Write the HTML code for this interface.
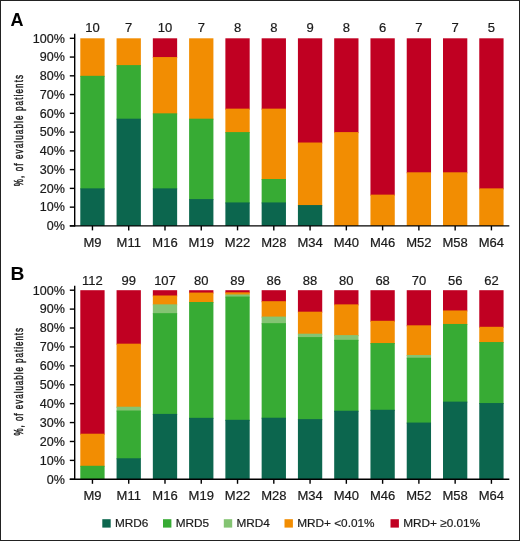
<!DOCTYPE html>
<html><head><meta charset="utf-8"><style>
html,body{margin:0;padding:0;background:#fff;}
svg{display:block;font-family:"Liberation Sans",sans-serif;will-change:transform;}
</style></head><body>
<svg width="520" height="541" viewBox="0 0 520 541">
<rect x="0" y="0" width="520" height="541" fill="#fff"/>
<rect x="80.30" y="38.30" width="24.30" height="38.52" fill="#f28d02"/>
<rect x="80.30" y="75.82" width="24.30" height="113.56" fill="#37ab34"/>
<rect x="80.30" y="188.38" width="24.30" height="37.52" fill="#0c664e"/>
<rect x="116.57" y="38.30" width="24.30" height="27.80" fill="#f28d02"/>
<rect x="116.57" y="65.10" width="24.30" height="54.60" fill="#37ab34"/>
<rect x="116.57" y="118.70" width="24.30" height="107.20" fill="#0c664e"/>
<rect x="152.84" y="38.30" width="24.30" height="19.76" fill="#c00022"/>
<rect x="152.84" y="57.06" width="24.30" height="57.28" fill="#f28d02"/>
<rect x="152.84" y="113.34" width="24.30" height="76.04" fill="#37ab34"/>
<rect x="152.84" y="188.38" width="24.30" height="37.52" fill="#0c664e"/>
<rect x="189.11" y="38.30" width="24.30" height="81.40" fill="#f28d02"/>
<rect x="189.11" y="118.70" width="24.30" height="81.40" fill="#37ab34"/>
<rect x="189.11" y="199.10" width="24.30" height="26.80" fill="#0c664e"/>
<rect x="225.38" y="38.30" width="24.30" height="71.35" fill="#c00022"/>
<rect x="225.38" y="108.65" width="24.30" height="24.45" fill="#f28d02"/>
<rect x="225.38" y="132.10" width="24.30" height="71.35" fill="#37ab34"/>
<rect x="225.38" y="202.45" width="24.30" height="23.45" fill="#0c664e"/>
<rect x="261.65" y="38.30" width="24.30" height="71.35" fill="#c00022"/>
<rect x="261.65" y="108.65" width="24.30" height="71.35" fill="#f28d02"/>
<rect x="261.65" y="179.00" width="24.30" height="24.45" fill="#37ab34"/>
<rect x="261.65" y="202.45" width="24.30" height="23.45" fill="#0c664e"/>
<rect x="297.92" y="38.30" width="24.30" height="105.22" fill="#c00022"/>
<rect x="297.92" y="142.52" width="24.30" height="63.53" fill="#f28d02"/>
<rect x="297.92" y="205.06" width="24.30" height="20.84" fill="#0c664e"/>
<rect x="334.19" y="38.30" width="24.30" height="94.80" fill="#c00022"/>
<rect x="334.19" y="132.10" width="24.30" height="93.80" fill="#f28d02"/>
<rect x="370.46" y="38.30" width="24.30" height="157.33" fill="#c00022"/>
<rect x="370.46" y="194.63" width="24.30" height="31.27" fill="#f28d02"/>
<rect x="406.73" y="38.30" width="24.30" height="135.00" fill="#c00022"/>
<rect x="406.73" y="172.30" width="24.30" height="53.60" fill="#f28d02"/>
<rect x="443.00" y="38.30" width="24.30" height="135.00" fill="#c00022"/>
<rect x="443.00" y="172.30" width="24.30" height="53.60" fill="#f28d02"/>
<rect x="479.27" y="38.30" width="24.30" height="151.08" fill="#c00022"/>
<rect x="479.27" y="188.38" width="24.30" height="37.52" fill="#f28d02"/>
<line x1="74.70" y1="33.80" x2="74.70" y2="226.60" stroke="#000" stroke-width="1.4"/>
<line x1="69.80" y1="225.90" x2="509.30" y2="225.90" stroke="#000" stroke-width="1.4"/>
<line x1="69.80" y1="225.90" x2="74.70" y2="225.90" stroke="#000" stroke-width="1.4"/>
<text transform="translate(64.90,230.20) scale(1.045,1)" text-anchor="end" font-size="12" font-weight="normal" fill="#1a1a1a" stroke="#1a1a1a" stroke-width="0.2">0%</text>
<line x1="69.80" y1="207.14" x2="74.70" y2="207.14" stroke="#000" stroke-width="1.4"/>
<text transform="translate(64.90,211.44) scale(1.045,1)" text-anchor="end" font-size="12" font-weight="normal" fill="#1a1a1a" stroke="#1a1a1a" stroke-width="0.2">10%</text>
<line x1="69.80" y1="188.38" x2="74.70" y2="188.38" stroke="#000" stroke-width="1.4"/>
<text transform="translate(64.90,192.68) scale(1.045,1)" text-anchor="end" font-size="12" font-weight="normal" fill="#1a1a1a" stroke="#1a1a1a" stroke-width="0.2">20%</text>
<line x1="69.80" y1="169.62" x2="74.70" y2="169.62" stroke="#000" stroke-width="1.4"/>
<text transform="translate(64.90,173.92) scale(1.045,1)" text-anchor="end" font-size="12" font-weight="normal" fill="#1a1a1a" stroke="#1a1a1a" stroke-width="0.2">30%</text>
<line x1="69.80" y1="150.86" x2="74.70" y2="150.86" stroke="#000" stroke-width="1.4"/>
<text transform="translate(64.90,155.16) scale(1.045,1)" text-anchor="end" font-size="12" font-weight="normal" fill="#1a1a1a" stroke="#1a1a1a" stroke-width="0.2">40%</text>
<line x1="69.80" y1="132.10" x2="74.70" y2="132.10" stroke="#000" stroke-width="1.4"/>
<text transform="translate(64.90,136.40) scale(1.045,1)" text-anchor="end" font-size="12" font-weight="normal" fill="#1a1a1a" stroke="#1a1a1a" stroke-width="0.2">50%</text>
<line x1="69.80" y1="113.34" x2="74.70" y2="113.34" stroke="#000" stroke-width="1.4"/>
<text transform="translate(64.90,117.64) scale(1.045,1)" text-anchor="end" font-size="12" font-weight="normal" fill="#1a1a1a" stroke="#1a1a1a" stroke-width="0.2">60%</text>
<line x1="69.80" y1="94.58" x2="74.70" y2="94.58" stroke="#000" stroke-width="1.4"/>
<text transform="translate(64.90,98.88) scale(1.045,1)" text-anchor="end" font-size="12" font-weight="normal" fill="#1a1a1a" stroke="#1a1a1a" stroke-width="0.2">70%</text>
<line x1="69.80" y1="75.82" x2="74.70" y2="75.82" stroke="#000" stroke-width="1.4"/>
<text transform="translate(64.90,80.12) scale(1.045,1)" text-anchor="end" font-size="12" font-weight="normal" fill="#1a1a1a" stroke="#1a1a1a" stroke-width="0.2">80%</text>
<line x1="69.80" y1="57.06" x2="74.70" y2="57.06" stroke="#000" stroke-width="1.4"/>
<text transform="translate(64.90,61.36) scale(1.045,1)" text-anchor="end" font-size="12" font-weight="normal" fill="#1a1a1a" stroke="#1a1a1a" stroke-width="0.2">90%</text>
<line x1="69.80" y1="38.30" x2="74.70" y2="38.30" stroke="#000" stroke-width="1.4"/>
<text transform="translate(64.90,42.60) scale(1.045,1)" text-anchor="end" font-size="12" font-weight="normal" fill="#1a1a1a" stroke="#1a1a1a" stroke-width="0.2">100%</text>
<line x1="92.45" y1="225.90" x2="92.45" y2="230.40" stroke="#000" stroke-width="1.4"/>
<text transform="translate(92.45,246.60) scale(1.085,1)" text-anchor="middle" font-size="12" font-weight="normal" fill="#1a1a1a" stroke="#1a1a1a" stroke-width="0.2">M9</text>
<text transform="translate(92.45,32.40) scale(1.085,1)" text-anchor="middle" font-size="12" font-weight="normal" fill="#1a1a1a" stroke="#1a1a1a" stroke-width="0.2">10</text>
<line x1="128.72" y1="225.90" x2="128.72" y2="230.40" stroke="#000" stroke-width="1.4"/>
<text transform="translate(128.72,246.60) scale(1.085,1)" text-anchor="middle" font-size="12" font-weight="normal" fill="#1a1a1a" stroke="#1a1a1a" stroke-width="0.2">M11</text>
<text transform="translate(128.72,32.40) scale(1.085,1)" text-anchor="middle" font-size="12" font-weight="normal" fill="#1a1a1a" stroke="#1a1a1a" stroke-width="0.2">7</text>
<line x1="164.99" y1="225.90" x2="164.99" y2="230.40" stroke="#000" stroke-width="1.4"/>
<text transform="translate(164.99,246.60) scale(1.085,1)" text-anchor="middle" font-size="12" font-weight="normal" fill="#1a1a1a" stroke="#1a1a1a" stroke-width="0.2">M16</text>
<text transform="translate(164.99,32.40) scale(1.085,1)" text-anchor="middle" font-size="12" font-weight="normal" fill="#1a1a1a" stroke="#1a1a1a" stroke-width="0.2">10</text>
<line x1="201.26" y1="225.90" x2="201.26" y2="230.40" stroke="#000" stroke-width="1.4"/>
<text transform="translate(201.26,246.60) scale(1.085,1)" text-anchor="middle" font-size="12" font-weight="normal" fill="#1a1a1a" stroke="#1a1a1a" stroke-width="0.2">M19</text>
<text transform="translate(201.26,32.40) scale(1.085,1)" text-anchor="middle" font-size="12" font-weight="normal" fill="#1a1a1a" stroke="#1a1a1a" stroke-width="0.2">7</text>
<line x1="237.53" y1="225.90" x2="237.53" y2="230.40" stroke="#000" stroke-width="1.4"/>
<text transform="translate(237.53,246.60) scale(1.085,1)" text-anchor="middle" font-size="12" font-weight="normal" fill="#1a1a1a" stroke="#1a1a1a" stroke-width="0.2">M22</text>
<text transform="translate(237.53,32.40) scale(1.085,1)" text-anchor="middle" font-size="12" font-weight="normal" fill="#1a1a1a" stroke="#1a1a1a" stroke-width="0.2">8</text>
<line x1="273.80" y1="225.90" x2="273.80" y2="230.40" stroke="#000" stroke-width="1.4"/>
<text transform="translate(273.80,246.60) scale(1.085,1)" text-anchor="middle" font-size="12" font-weight="normal" fill="#1a1a1a" stroke="#1a1a1a" stroke-width="0.2">M28</text>
<text transform="translate(273.80,32.40) scale(1.085,1)" text-anchor="middle" font-size="12" font-weight="normal" fill="#1a1a1a" stroke="#1a1a1a" stroke-width="0.2">8</text>
<line x1="310.07" y1="225.90" x2="310.07" y2="230.40" stroke="#000" stroke-width="1.4"/>
<text transform="translate(310.07,246.60) scale(1.085,1)" text-anchor="middle" font-size="12" font-weight="normal" fill="#1a1a1a" stroke="#1a1a1a" stroke-width="0.2">M34</text>
<text transform="translate(310.07,32.40) scale(1.085,1)" text-anchor="middle" font-size="12" font-weight="normal" fill="#1a1a1a" stroke="#1a1a1a" stroke-width="0.2">9</text>
<line x1="346.34" y1="225.90" x2="346.34" y2="230.40" stroke="#000" stroke-width="1.4"/>
<text transform="translate(346.34,246.60) scale(1.085,1)" text-anchor="middle" font-size="12" font-weight="normal" fill="#1a1a1a" stroke="#1a1a1a" stroke-width="0.2">M40</text>
<text transform="translate(346.34,32.40) scale(1.085,1)" text-anchor="middle" font-size="12" font-weight="normal" fill="#1a1a1a" stroke="#1a1a1a" stroke-width="0.2">8</text>
<line x1="382.61" y1="225.90" x2="382.61" y2="230.40" stroke="#000" stroke-width="1.4"/>
<text transform="translate(382.61,246.60) scale(1.085,1)" text-anchor="middle" font-size="12" font-weight="normal" fill="#1a1a1a" stroke="#1a1a1a" stroke-width="0.2">M46</text>
<text transform="translate(382.61,32.40) scale(1.085,1)" text-anchor="middle" font-size="12" font-weight="normal" fill="#1a1a1a" stroke="#1a1a1a" stroke-width="0.2">6</text>
<line x1="418.88" y1="225.90" x2="418.88" y2="230.40" stroke="#000" stroke-width="1.4"/>
<text transform="translate(418.88,246.60) scale(1.085,1)" text-anchor="middle" font-size="12" font-weight="normal" fill="#1a1a1a" stroke="#1a1a1a" stroke-width="0.2">M52</text>
<text transform="translate(418.88,32.40) scale(1.085,1)" text-anchor="middle" font-size="12" font-weight="normal" fill="#1a1a1a" stroke="#1a1a1a" stroke-width="0.2">7</text>
<line x1="455.15" y1="225.90" x2="455.15" y2="230.40" stroke="#000" stroke-width="1.4"/>
<text transform="translate(455.15,246.60) scale(1.085,1)" text-anchor="middle" font-size="12" font-weight="normal" fill="#1a1a1a" stroke="#1a1a1a" stroke-width="0.2">M58</text>
<text transform="translate(455.15,32.40) scale(1.085,1)" text-anchor="middle" font-size="12" font-weight="normal" fill="#1a1a1a" stroke="#1a1a1a" stroke-width="0.2">7</text>
<line x1="491.42" y1="225.90" x2="491.42" y2="230.40" stroke="#000" stroke-width="1.4"/>
<text transform="translate(491.42,246.60) scale(1.085,1)" text-anchor="middle" font-size="12" font-weight="normal" fill="#1a1a1a" stroke="#1a1a1a" stroke-width="0.2">M64</text>
<text transform="translate(491.42,32.40) scale(1.085,1)" text-anchor="middle" font-size="12" font-weight="normal" fill="#1a1a1a" stroke="#1a1a1a" stroke-width="0.2">5</text>
<text transform="translate(10.50,25.70) scale(1.03,1)" text-anchor="start" font-size="17.5" font-weight="bold" fill="#000">A</text>
<rect x="80.30" y="290.20" width="24.30" height="144.51" fill="#c00022"/>
<rect x="80.30" y="433.71" width="24.30" height="33.08" fill="#f28d02"/>
<rect x="80.30" y="465.79" width="24.30" height="13.51" fill="#37ab34"/>
<rect x="116.57" y="290.20" width="24.30" height="54.48" fill="#c00022"/>
<rect x="116.57" y="343.68" width="24.30" height="64.03" fill="#f28d02"/>
<rect x="116.57" y="406.72" width="24.30" height="4.82" fill="#84c473"/>
<rect x="116.57" y="410.54" width="24.30" height="48.75" fill="#37ab34"/>
<rect x="116.57" y="458.29" width="24.30" height="21.01" fill="#0c664e"/>
<rect x="152.84" y="290.20" width="24.30" height="6.30" fill="#c00022"/>
<rect x="152.84" y="295.50" width="24.30" height="9.84" fill="#f28d02"/>
<rect x="152.84" y="304.34" width="24.30" height="9.84" fill="#84c473"/>
<rect x="152.84" y="313.17" width="24.30" height="101.74" fill="#37ab34"/>
<rect x="152.84" y="413.91" width="24.30" height="65.39" fill="#0c664e"/>
<rect x="189.11" y="290.20" width="24.30" height="3.36" fill="#c00022"/>
<rect x="189.11" y="292.56" width="24.30" height="10.45" fill="#f28d02"/>
<rect x="189.11" y="302.02" width="24.30" height="116.82" fill="#37ab34"/>
<rect x="189.11" y="417.84" width="24.30" height="61.46" fill="#0c664e"/>
<rect x="225.38" y="290.20" width="24.30" height="3.12" fill="#c00022"/>
<rect x="225.38" y="292.32" width="24.30" height="3.12" fill="#f28d02"/>
<rect x="225.38" y="294.45" width="24.30" height="3.12" fill="#84c473"/>
<rect x="225.38" y="296.57" width="24.30" height="124.23" fill="#37ab34"/>
<rect x="225.38" y="419.81" width="24.30" height="59.49" fill="#0c664e"/>
<rect x="261.65" y="290.20" width="24.30" height="11.99" fill="#c00022"/>
<rect x="261.65" y="301.19" width="24.30" height="16.39" fill="#f28d02"/>
<rect x="261.65" y="316.59" width="24.30" height="7.60" fill="#84c473"/>
<rect x="261.65" y="323.18" width="24.30" height="95.55" fill="#37ab34"/>
<rect x="261.65" y="417.73" width="24.30" height="61.57" fill="#0c664e"/>
<rect x="297.92" y="290.20" width="24.30" height="22.49" fill="#c00022"/>
<rect x="297.92" y="311.69" width="24.30" height="23.00" fill="#f28d02"/>
<rect x="297.92" y="333.69" width="24.30" height="4.40" fill="#84c473"/>
<rect x="297.92" y="337.10" width="24.30" height="83.04" fill="#37ab34"/>
<rect x="297.92" y="419.13" width="24.30" height="60.17" fill="#0c664e"/>
<rect x="334.19" y="290.20" width="24.30" height="15.18" fill="#c00022"/>
<rect x="334.19" y="304.38" width="24.30" height="31.73" fill="#f28d02"/>
<rect x="334.19" y="335.11" width="24.30" height="5.73" fill="#84c473"/>
<rect x="334.19" y="339.84" width="24.30" height="71.91" fill="#37ab34"/>
<rect x="334.19" y="410.75" width="24.30" height="68.55" fill="#0c664e"/>
<rect x="370.46" y="290.20" width="24.30" height="31.59" fill="#c00022"/>
<rect x="370.46" y="320.79" width="24.30" height="23.25" fill="#f28d02"/>
<rect x="370.46" y="343.04" width="24.30" height="67.74" fill="#37ab34"/>
<rect x="370.46" y="409.78" width="24.30" height="69.52" fill="#0c664e"/>
<rect x="406.73" y="290.20" width="24.30" height="36.12" fill="#c00022"/>
<rect x="406.73" y="325.32" width="24.30" height="30.72" fill="#f28d02"/>
<rect x="406.73" y="355.03" width="24.30" height="3.70" fill="#84c473"/>
<rect x="406.73" y="357.74" width="24.30" height="65.83" fill="#37ab34"/>
<rect x="406.73" y="422.57" width="24.30" height="56.73" fill="#0c664e"/>
<rect x="443.00" y="290.20" width="24.30" height="21.26" fill="#c00022"/>
<rect x="443.00" y="310.46" width="24.30" height="14.51" fill="#f28d02"/>
<rect x="443.00" y="323.97" width="24.30" height="78.67" fill="#37ab34"/>
<rect x="443.00" y="401.63" width="24.30" height="77.67" fill="#0c664e"/>
<rect x="479.27" y="290.20" width="24.30" height="37.60" fill="#c00022"/>
<rect x="479.27" y="326.80" width="24.30" height="16.25" fill="#f28d02"/>
<rect x="479.27" y="342.05" width="24.30" height="62.00" fill="#37ab34"/>
<rect x="479.27" y="403.05" width="24.30" height="76.25" fill="#0c664e"/>
<line x1="74.70" y1="285.70" x2="74.70" y2="480.00" stroke="#000" stroke-width="1.4"/>
<line x1="69.80" y1="479.30" x2="509.30" y2="479.30" stroke="#000" stroke-width="1.4"/>
<line x1="69.80" y1="479.30" x2="74.70" y2="479.30" stroke="#000" stroke-width="1.4"/>
<text transform="translate(64.90,483.60) scale(1.045,1)" text-anchor="end" font-size="12" font-weight="normal" fill="#1a1a1a" stroke="#1a1a1a" stroke-width="0.2">0%</text>
<line x1="69.80" y1="460.39" x2="74.70" y2="460.39" stroke="#000" stroke-width="1.4"/>
<text transform="translate(64.90,464.69) scale(1.045,1)" text-anchor="end" font-size="12" font-weight="normal" fill="#1a1a1a" stroke="#1a1a1a" stroke-width="0.2">10%</text>
<line x1="69.80" y1="441.48" x2="74.70" y2="441.48" stroke="#000" stroke-width="1.4"/>
<text transform="translate(64.90,445.78) scale(1.045,1)" text-anchor="end" font-size="12" font-weight="normal" fill="#1a1a1a" stroke="#1a1a1a" stroke-width="0.2">20%</text>
<line x1="69.80" y1="422.57" x2="74.70" y2="422.57" stroke="#000" stroke-width="1.4"/>
<text transform="translate(64.90,426.87) scale(1.045,1)" text-anchor="end" font-size="12" font-weight="normal" fill="#1a1a1a" stroke="#1a1a1a" stroke-width="0.2">30%</text>
<line x1="69.80" y1="403.66" x2="74.70" y2="403.66" stroke="#000" stroke-width="1.4"/>
<text transform="translate(64.90,407.96) scale(1.045,1)" text-anchor="end" font-size="12" font-weight="normal" fill="#1a1a1a" stroke="#1a1a1a" stroke-width="0.2">40%</text>
<line x1="69.80" y1="384.75" x2="74.70" y2="384.75" stroke="#000" stroke-width="1.4"/>
<text transform="translate(64.90,389.05) scale(1.045,1)" text-anchor="end" font-size="12" font-weight="normal" fill="#1a1a1a" stroke="#1a1a1a" stroke-width="0.2">50%</text>
<line x1="69.80" y1="365.84" x2="74.70" y2="365.84" stroke="#000" stroke-width="1.4"/>
<text transform="translate(64.90,370.14) scale(1.045,1)" text-anchor="end" font-size="12" font-weight="normal" fill="#1a1a1a" stroke="#1a1a1a" stroke-width="0.2">60%</text>
<line x1="69.80" y1="346.93" x2="74.70" y2="346.93" stroke="#000" stroke-width="1.4"/>
<text transform="translate(64.90,351.23) scale(1.045,1)" text-anchor="end" font-size="12" font-weight="normal" fill="#1a1a1a" stroke="#1a1a1a" stroke-width="0.2">70%</text>
<line x1="69.80" y1="328.02" x2="74.70" y2="328.02" stroke="#000" stroke-width="1.4"/>
<text transform="translate(64.90,332.32) scale(1.045,1)" text-anchor="end" font-size="12" font-weight="normal" fill="#1a1a1a" stroke="#1a1a1a" stroke-width="0.2">80%</text>
<line x1="69.80" y1="309.11" x2="74.70" y2="309.11" stroke="#000" stroke-width="1.4"/>
<text transform="translate(64.90,313.41) scale(1.045,1)" text-anchor="end" font-size="12" font-weight="normal" fill="#1a1a1a" stroke="#1a1a1a" stroke-width="0.2">90%</text>
<line x1="69.80" y1="290.20" x2="74.70" y2="290.20" stroke="#000" stroke-width="1.4"/>
<text transform="translate(64.90,294.50) scale(1.045,1)" text-anchor="end" font-size="12" font-weight="normal" fill="#1a1a1a" stroke="#1a1a1a" stroke-width="0.2">100%</text>
<line x1="92.45" y1="479.30" x2="92.45" y2="483.80" stroke="#000" stroke-width="1.4"/>
<text transform="translate(92.45,499.60) scale(1.085,1)" text-anchor="middle" font-size="12" font-weight="normal" fill="#1a1a1a" stroke="#1a1a1a" stroke-width="0.2">M9</text>
<text transform="translate(92.45,285.00) scale(1.085,1)" text-anchor="middle" font-size="12" font-weight="normal" fill="#1a1a1a" stroke="#1a1a1a" stroke-width="0.2">112</text>
<line x1="128.72" y1="479.30" x2="128.72" y2="483.80" stroke="#000" stroke-width="1.4"/>
<text transform="translate(128.72,499.60) scale(1.085,1)" text-anchor="middle" font-size="12" font-weight="normal" fill="#1a1a1a" stroke="#1a1a1a" stroke-width="0.2">M11</text>
<text transform="translate(128.72,285.00) scale(1.085,1)" text-anchor="middle" font-size="12" font-weight="normal" fill="#1a1a1a" stroke="#1a1a1a" stroke-width="0.2">99</text>
<line x1="164.99" y1="479.30" x2="164.99" y2="483.80" stroke="#000" stroke-width="1.4"/>
<text transform="translate(164.99,499.60) scale(1.085,1)" text-anchor="middle" font-size="12" font-weight="normal" fill="#1a1a1a" stroke="#1a1a1a" stroke-width="0.2">M16</text>
<text transform="translate(164.99,285.00) scale(1.085,1)" text-anchor="middle" font-size="12" font-weight="normal" fill="#1a1a1a" stroke="#1a1a1a" stroke-width="0.2">107</text>
<line x1="201.26" y1="479.30" x2="201.26" y2="483.80" stroke="#000" stroke-width="1.4"/>
<text transform="translate(201.26,499.60) scale(1.085,1)" text-anchor="middle" font-size="12" font-weight="normal" fill="#1a1a1a" stroke="#1a1a1a" stroke-width="0.2">M19</text>
<text transform="translate(201.26,285.00) scale(1.085,1)" text-anchor="middle" font-size="12" font-weight="normal" fill="#1a1a1a" stroke="#1a1a1a" stroke-width="0.2">80</text>
<line x1="237.53" y1="479.30" x2="237.53" y2="483.80" stroke="#000" stroke-width="1.4"/>
<text transform="translate(237.53,499.60) scale(1.085,1)" text-anchor="middle" font-size="12" font-weight="normal" fill="#1a1a1a" stroke="#1a1a1a" stroke-width="0.2">M22</text>
<text transform="translate(237.53,285.00) scale(1.085,1)" text-anchor="middle" font-size="12" font-weight="normal" fill="#1a1a1a" stroke="#1a1a1a" stroke-width="0.2">89</text>
<line x1="273.80" y1="479.30" x2="273.80" y2="483.80" stroke="#000" stroke-width="1.4"/>
<text transform="translate(273.80,499.60) scale(1.085,1)" text-anchor="middle" font-size="12" font-weight="normal" fill="#1a1a1a" stroke="#1a1a1a" stroke-width="0.2">M28</text>
<text transform="translate(273.80,285.00) scale(1.085,1)" text-anchor="middle" font-size="12" font-weight="normal" fill="#1a1a1a" stroke="#1a1a1a" stroke-width="0.2">86</text>
<line x1="310.07" y1="479.30" x2="310.07" y2="483.80" stroke="#000" stroke-width="1.4"/>
<text transform="translate(310.07,499.60) scale(1.085,1)" text-anchor="middle" font-size="12" font-weight="normal" fill="#1a1a1a" stroke="#1a1a1a" stroke-width="0.2">M34</text>
<text transform="translate(310.07,285.00) scale(1.085,1)" text-anchor="middle" font-size="12" font-weight="normal" fill="#1a1a1a" stroke="#1a1a1a" stroke-width="0.2">88</text>
<line x1="346.34" y1="479.30" x2="346.34" y2="483.80" stroke="#000" stroke-width="1.4"/>
<text transform="translate(346.34,499.60) scale(1.085,1)" text-anchor="middle" font-size="12" font-weight="normal" fill="#1a1a1a" stroke="#1a1a1a" stroke-width="0.2">M40</text>
<text transform="translate(346.34,285.00) scale(1.085,1)" text-anchor="middle" font-size="12" font-weight="normal" fill="#1a1a1a" stroke="#1a1a1a" stroke-width="0.2">80</text>
<line x1="382.61" y1="479.30" x2="382.61" y2="483.80" stroke="#000" stroke-width="1.4"/>
<text transform="translate(382.61,499.60) scale(1.085,1)" text-anchor="middle" font-size="12" font-weight="normal" fill="#1a1a1a" stroke="#1a1a1a" stroke-width="0.2">M46</text>
<text transform="translate(382.61,285.00) scale(1.085,1)" text-anchor="middle" font-size="12" font-weight="normal" fill="#1a1a1a" stroke="#1a1a1a" stroke-width="0.2">68</text>
<line x1="418.88" y1="479.30" x2="418.88" y2="483.80" stroke="#000" stroke-width="1.4"/>
<text transform="translate(418.88,499.60) scale(1.085,1)" text-anchor="middle" font-size="12" font-weight="normal" fill="#1a1a1a" stroke="#1a1a1a" stroke-width="0.2">M52</text>
<text transform="translate(418.88,285.00) scale(1.085,1)" text-anchor="middle" font-size="12" font-weight="normal" fill="#1a1a1a" stroke="#1a1a1a" stroke-width="0.2">70</text>
<line x1="455.15" y1="479.30" x2="455.15" y2="483.80" stroke="#000" stroke-width="1.4"/>
<text transform="translate(455.15,499.60) scale(1.085,1)" text-anchor="middle" font-size="12" font-weight="normal" fill="#1a1a1a" stroke="#1a1a1a" stroke-width="0.2">M58</text>
<text transform="translate(455.15,285.00) scale(1.085,1)" text-anchor="middle" font-size="12" font-weight="normal" fill="#1a1a1a" stroke="#1a1a1a" stroke-width="0.2">56</text>
<line x1="491.42" y1="479.30" x2="491.42" y2="483.80" stroke="#000" stroke-width="1.4"/>
<text transform="translate(491.42,499.60) scale(1.085,1)" text-anchor="middle" font-size="12" font-weight="normal" fill="#1a1a1a" stroke="#1a1a1a" stroke-width="0.2">M64</text>
<text transform="translate(491.42,285.00) scale(1.085,1)" text-anchor="middle" font-size="12" font-weight="normal" fill="#1a1a1a" stroke="#1a1a1a" stroke-width="0.2">62</text>
<text transform="translate(10.60,279.60) scale(1.1,1)" text-anchor="start" font-size="17.5" font-weight="bold" fill="#000">B</text>
<text transform="translate(23.0,130.1) rotate(-90) scale(0.62,1)" text-anchor="middle" font-size="13" letter-spacing="1.82" fill="#1a1a1a" stroke="#1a1a1a" stroke-width="0.5">%, of evaluable patients</text>
<text transform="translate(23.0,381.3) rotate(-90) scale(0.62,1)" text-anchor="middle" font-size="13" letter-spacing="1.56" fill="#1a1a1a" stroke="#1a1a1a" stroke-width="0.5">%, of evaluable patients</text>
<rect x="102.30" y="519.20" width="8.40" height="8.40" fill="#0c664e"/>
<text transform="translate(115.00,527.20) scale(1.0,1)" text-anchor="start" font-size="11.8" font-weight="normal" fill="#1a1a1a" stroke="#1a1a1a" stroke-width="0.2">MRD6</text>
<rect x="163.00" y="519.20" width="8.40" height="8.40" fill="#37ab34"/>
<text transform="translate(175.70,527.20) scale(1.0,1)" text-anchor="start" font-size="11.8" font-weight="normal" fill="#1a1a1a" stroke="#1a1a1a" stroke-width="0.2">MRD5</text>
<rect x="223.80" y="519.20" width="8.40" height="8.40" fill="#84c473"/>
<text transform="translate(236.50,527.20) scale(1.0,1)" text-anchor="start" font-size="11.8" font-weight="normal" fill="#1a1a1a" stroke="#1a1a1a" stroke-width="0.2">MRD4</text>
<rect x="284.50" y="519.20" width="8.40" height="8.40" fill="#f28d02"/>
<text transform="translate(297.20,527.20) scale(1.0,1)" text-anchor="start" font-size="11.8" font-weight="normal" fill="#1a1a1a" stroke="#1a1a1a" stroke-width="0.2">MRD+ &lt;0.01%</text>
<rect x="390.50" y="519.20" width="8.40" height="8.40" fill="#c00022"/>
<text transform="translate(403.20,527.20) scale(1.0,1)" text-anchor="start" font-size="11.8" font-weight="normal" fill="#1a1a1a" stroke="#1a1a1a" stroke-width="0.2">MRD+ ≥0.01%</text>
<rect x="0.5" y="0.5" width="519" height="540" fill="none" stroke="#222" stroke-width="1"/>
</svg>
</body></html>
